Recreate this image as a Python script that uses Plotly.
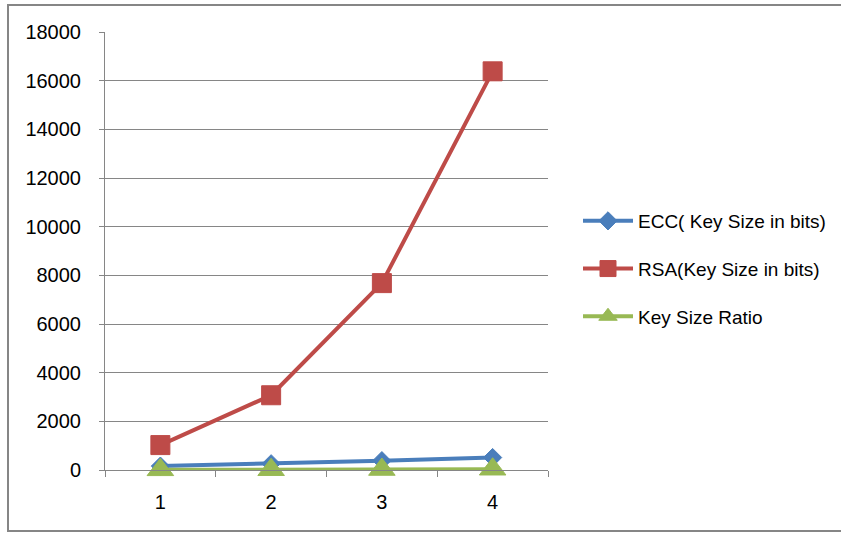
import plotly.graph_objects as go

# Key sizes for equivalent security levels
categories = ["1", "2", "3", "4"]
ecc_bits = [160, 256, 384, 512]
rsa_bits = [1024, 3072, 7680, 16384]
key_ratio = [6.4, 12, 20, 32]

y_ticks = list(range(0, 18001, 2000))
y_tick_labels = [str(v) for v in y_ticks]

W, H = 841, 533
L, R, T, B = 105, 293, 32, 63
pw, ph = W - L - R, H - T - B

fig = go.Figure()
series = [
    ("ECC( Key Size in bits)", ecc_bits, "#4A7EBB", "diamond", 14),
    ("RSA(Key Size in bits)", rsa_bits, "#BE4B48", "square", 19),
    ("Key Size Ratio", key_ratio, "#98B954", "triangle-up", 23),
]
for i, (name, vals, col, sym, ms) in enumerate(series):
    fig.add_trace(go.Scatter(
        x=categories, y=vals, name=name, mode="lines+markers",
        legendgroup=f"g{i}", cliponaxis=False,
        line=dict(color=col, width=4),
        marker=dict(symbol=sym, size=ms, color=col,
                    line=dict(color=col, width=1)),
    ))

gray = "#868686"
fig.update_layout(
    width=W, height=H,
    margin=dict(l=L, r=R, t=T, b=B, autoexpand=False),
    paper_bgcolor="white", plot_bgcolor="white",
    font=dict(family="Liberation Sans, Arial, sans-serif", color="#000000"),
    showlegend=True,
    legend=dict(
        x=(578 - L) / pw, xanchor="left",
        y=(470 - 269) / ph, yanchor="middle",
        font=dict(size=19, color="#000000"),
        traceorder="grouped", tracegroupgap=20,
        itemwidth=50,
        bgcolor="rgba(0,0,0,0)",
    ),
    xaxis=dict(
        type="category", range=[-0.5, 3.5],
        showline=True, linecolor=gray, linewidth=1,
        ticks="outside", tickson="boundaries", ticklen=6, tickcolor=gray,
        showgrid=False, tickfont=dict(size=20),
        ticklabelstandoff=14,
    ),
    yaxis=dict(
        range=[0, 18000], tickvals=y_ticks, ticktext=y_tick_labels,
        showline=True, linecolor=gray, linewidth=1,
        ticks="outside", ticklen=5, tickcolor=gray,
        showgrid=True, gridcolor=gray, gridwidth=1,
        zeroline=False, tickfont=dict(size=20),
        ticklabelstandoff=14,
    ),
    shapes=[dict(
        type="rect", xref="paper", yref="paper",
        x0=(8 - L) / pw, x1=(850 - L) / pw,
        y0=(H - 531 - B) / ph, y1=(H - 5 - B) / ph,
        line=dict(color=gray, width=2), fillcolor="rgba(0,0,0,0)",
        layer="below",
    )],
)

fig.write_html("out.html")
